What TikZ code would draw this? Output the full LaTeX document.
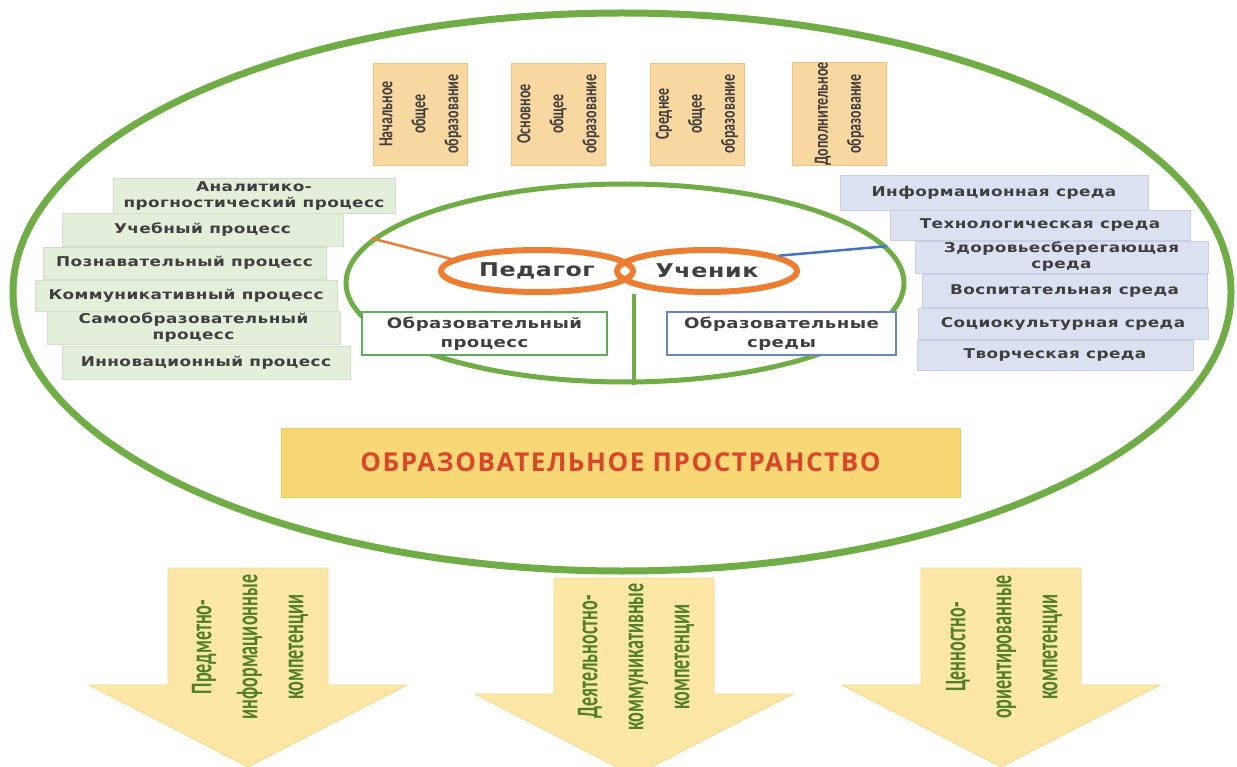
\documentclass[tikz,border=0pt]{standalone}
\usepackage{fontspec}
\setmainfont{DejaVu Sans}
\newfontfamily\boxfont[LetterSpace=3,FakeStretch=1.25]{DejaVu Sans}
\newfontfamily\condfont[FakeStretch=0.70]{Carlito}
\newfontfamily\arrfont[FakeStretch=0.6]{Carlito}
\newfontfamily\capsfont[LetterSpace=6]{Open Sans}
\usetikzlibrary{shapes.geometric}
\definecolor{bigG}{HTML}{70AD47}
\definecolor{persO}{HTML}{ED7D31}
\definecolor{lineB}{HTML}{4472C4}
\definecolor{lgFill}{HTML}{E3EEDB}
\definecolor{lgDraw}{HTML}{D2DFC8}
\definecolor{lbFill}{HTML}{DCE1F1}
\definecolor{lbDraw}{HTML}{C8CEE3}
\definecolor{topFill}{HTML}{F9D7A0}
\definecolor{topDraw}{HTML}{F0C385}
\definecolor{spFill}{HTML}{F8D775}
\definecolor{spDraw}{HTML}{F1C95A}
\definecolor{spText}{HTML}{D9462B}
\definecolor{arFill}{HTML}{FCE7A7}
\definecolor{arDraw}{HTML}{F4D68A}
\definecolor{arText}{HTML}{4F7F2B}
\definecolor{txtG}{HTML}{3F3F3F}
\definecolor{procG}{HTML}{5EAD5A}
\definecolor{envB}{HTML}{6787C2}
\newcommand\compArrow[4]{%
  \filldraw[arrowbody] (#1-80,#2) -- (#1+80,#2) -- (#1+80,#3) -- (#1+159,#3)
    -- (#1,#4) -- (#1-159,#3) -- (#1-80,#3) -- cycle;}
\begin{document}
\begin{tikzpicture}[x=1pt,y=-1pt,
  bigell/.style={ellipse, draw=bigG, line width=7pt, inner sep=0pt},
  innerell/.style={ellipse, draw=bigG, line width=5pt, inner sep=0pt},
  persell/.style={ellipse, draw=persO, line width=6pt, inner sep=0pt, minimum height=42pt,
    text=txtG, font=\boxfont\bfseries\fontsize{19}{21}\selectfont},
  lbox/.style={draw=lgDraw, fill=lgFill, line width=0.8pt, inner sep=0pt, align=center,
    text=txtG, font=\boxfont\bfseries\fontsize{13.5}{16}\selectfont},
  rbox/.style={draw=lbDraw, fill=lbFill, line width=0.8pt, inner sep=0pt, align=center,
    text=txtG, font=\boxfont\bfseries\fontsize{13.5}{16}\selectfont},
  mainbox/.style={fill=white, line width=2.5pt, inner sep=0pt, minimum height=43pt, align=center,
    text=txtG, font=\boxfont\bfseries\fontsize{14.5}{19}\selectfont},
  topbox/.style={draw=topDraw, fill=topFill, line width=0.8pt, inner sep=0pt, rotate=90,
    minimum width=102pt, minimum height=94pt, align=center, text=txtG,
    font=\condfont\bfseries\fontsize{20}{33}\selectfont},
  spacebox/.style={draw=spDraw, fill=spFill, line width=0.8pt, inner sep=0pt, text=spText,
    font=\capsfont\bfseries\fontsize{26}{28}\selectfont},
  arrowbody/.style={fill=arFill, draw=arDraw, line width=0.8pt},
  arrtext/.style={rotate=90, align=center, inner sep=0pt, text=arText,
    font=\arrfont\bfseries\fontsize{30}{46}\selectfont},
  orangeline/.style={draw=persO, line width=2.5pt},
  blueline/.style={draw=lineB, line width=2.5pt},
  vline/.style={draw=bigG, line width=4pt}
]
\useasboundingbox (0,0) rectangle (1237,767);
\clip (0,0) rectangle (1237,767);

% outer space
\node[bigell, minimum width=1218pt, minimum height=558pt] (space) at (622,292) {};

% processes (left)
\node[lbox, minimum width=282pt, minimum height=35pt] (p1) at (254,195.5) {Аналитико-\\прогностический процесс};
\node[lbox, minimum width=281pt, minimum height=33pt] (p2) at (202.5,229.5) {Учебный процесс};
\node[lbox, minimum width=283pt, minimum height=32pt] (p3) at (184.5,263) {Познавательный процесс};
\node[lbox, minimum width=302pt, minimum height=31pt] (p4) at (186,295.5) {Коммуникативный процесс};
\node[lbox, minimum width=293pt, minimum height=33pt] (p5) at (193.5,327.5) {Самообразовательный\\процесс};
\node[lbox, minimum width=288pt, minimum height=33pt] (p6) at (206,362.5) {Инновационный процесс};

% environments (right)
\node[rbox, minimum width=308pt, minimum height=35pt] (e1) at (994,192.5) {Информационная среда};
\node[rbox, minimum width=300pt, minimum height=30pt] (e2) at (1040,225) {Технологическая среда};
\node[rbox, minimum width=293pt, minimum height=32pt] (e3) at (1061.5,257) {Здоровьесберегающая\\среда};
\node[rbox, minimum width=285pt, minimum height=33pt] (e4) at (1064.5,290.5) {Воспитательная среда};
\node[rbox, minimum width=290pt, minimum height=31pt] (e5) at (1063,323.5) {Социокультурная среда};
\node[rbox, minimum width=276pt, minimum height=30pt] (e6) at (1055,355) {Творческая среда};

% inner ellipse
\node[innerell, minimum width=558pt, minimum height=198pt] (inner) at (625,283) {};

% teacher and student
\node[persell, minimum width=192pt] (ped) at (537,271) {Педагог};
\node[persell, minimum width=180pt] (uch) at (707,271) {Ученик};

\draw[orangeline] (inner.170) -- (ped.172);
\draw[blueline] (uch.12) -- (inner.8);
\coordinate (vtop) at (634,294);
\draw[vline] (vtop) -- (vtop |- inner.south);

\node[mainbox, draw=procG, minimum width=245pt] (proc) at (484.5,333.5) {Образовательный\\процесс};
\node[mainbox, draw=envB, minimum width=229pt] (env) at (781.5,333.5) {Образовательные\\среды};

% levels of education
\node[topbox] (l1) at (420.5,114) {Начальное\\общее\\образование};
\node[topbox] (l2) at (558.5,114) {Основное\\общее\\образование};
\node[topbox] (l3) at (697,114) {Среднее\\общее\\образование};
\node[topbox] (l4) at (839.5,114) {Дополнительное\\образование};

% educational space
\node[spacebox, minimum width=679pt, minimum height=69pt] (title) at (620.5,462.5) {ОБРАЗОВАТЕЛЬНОЕ ПРОСТРАНСТВО};

% competence arrows
\compArrow{248}{568}{685}{767}
\compArrow{634}{578}{694}{776}
\compArrow{1001}{568}{685}{767}
\node[arrtext] (c1) at (250,647) {Предметно-\\информационные\\компетенции};
\node[arrtext] (c2) at (636,657) {Деятельностно-\\коммуникативные\\компетенции};
\node[arrtext] (c3) at (1004,647) {Ценностно-\\ориентированные\\компетенции};
\end{tikzpicture}
\end{document}
